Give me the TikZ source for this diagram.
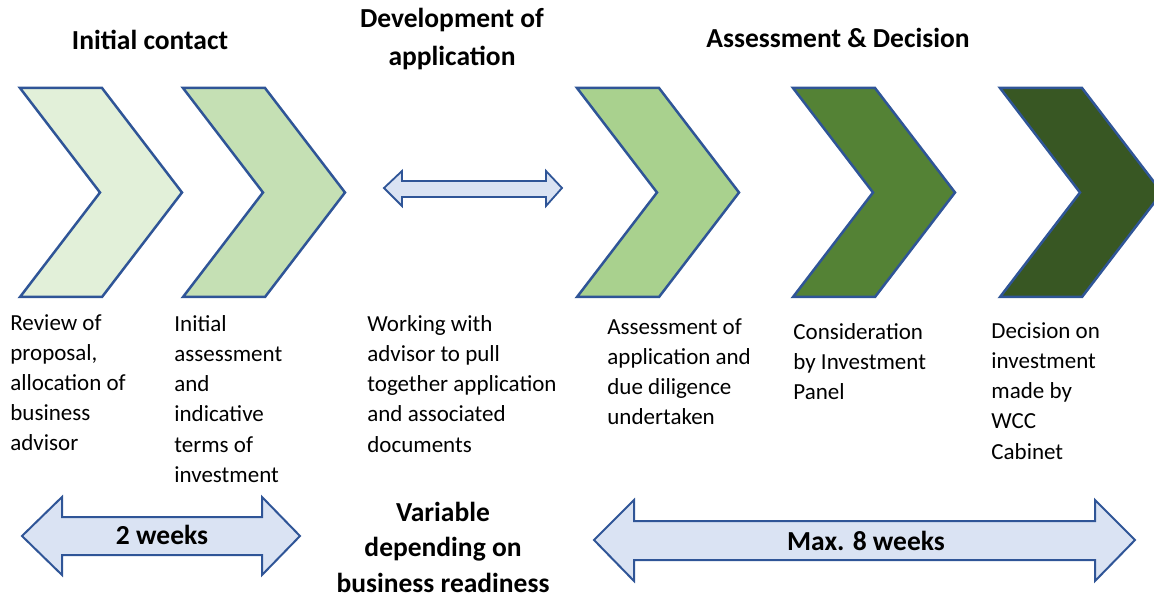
\documentclass[tikz,border=0pt]{standalone}
\usepackage{fontspec}
\setmainfont{Carlito}
\usepackage{tikz}
\usetikzlibrary{positioning}
\definecolor{stageblue}{RGB}{47,85,151}
\definecolor{spanfill}{RGB}{218,227,243}
\definecolor{stageA}{RGB}{226,240,217}
\definecolor{stageB}{RGB}{197,224,180}
\definecolor{stageC}{RGB}{169,209,142}
\definecolor{stageD}{RGB}{84,130,53}
\definecolor{stageE}{RGB}{56,87,35}

\begin{document}
\begin{tikzpicture}[x=0.5pt,y=-0.5pt,
  chevron/.style={draw=stageblue,line width=1.25pt,line join=miter},
  spanarrow/.style={draw=stageblue,fill=spanfill,line width=1pt,line join=miter},
  heading/.style={font=\fontsize{13.75}{19}\selectfont\bfseries,align=center,inner sep=0pt},
  steptext/.style={font=\fontsize{11.5}{15}\selectfont,align=left,anchor=base west,inner sep=0pt}]
\useasboundingbox (0,0) rectangle (1154,597);

% Stage chevrons
\foreach \left/\col in {20/stageA,183/stageB,577/stageC,793/stageD,1000/stageE}{
  \draw[chevron,fill=\col] (\left,88) -- ++(82,0) -- ++(80,104.5) -- ++(-80,104.5)
    -- ++(-82,0) -- ++(80,-104.5) -- cycle;
}

% Headings
\node[heading] (contact) at (150,40) {Initial contact};
\node[heading] (develop) at (452,39) {Development of\\application};
\node[heading] (decide) at (838,38) {Assessment \& Decision};

% Development arrow
\draw[spanarrow,line width=0.9pt] (384,188) -- (402,171) -- (402,181) -- (546,181) -- (546,171)
  -- (562,188) -- (546,206) -- (546,197) -- (402,197) -- (402,206) -- cycle;

% Step descriptions (placed by the baseline of their last line)
\node[steptext] (review) at (10,451) {Review of\\proposal,\\allocation of\\business\\advisor};
\node[steptext] (terms) at (174,482) {Initial\\assessment\\and\\indicative\\terms of\\investment};
\node[steptext] (working) at (367,452) {Working with\\advisor to pull\\together application\\and associated\\documents};
\node[steptext] (diligence) at (607,425) {Assessment of\\application and\\due diligence\\undertaken};
\node[steptext] (panel) at (793,400) {Consideration\\by Investment\\Panel};
\node[steptext] (cabinet) at (991,459) {Decision on\\investment\\made by\\WCC\\Cabinet};

% Durations
\draw[spanarrow] (22,536) -- (62,497) -- (62,517) -- (262,517) -- (262,497) -- (300,536)
  -- (262,575) -- (262,555) -- (62,555) -- (62,575) -- cycle;
\node[heading] (twoweeks) at (162,535) {2 weeks};

\node[heading,font=\fontsize{13.75}{17.75}\selectfont\bfseries] (variable) at (443,547)
  {Variable\\depending on\\business readiness};

\draw[spanarrow] (594,540) -- (634,500) -- (634,521) -- (1095,521) -- (1095,500) -- (1135,540)
  -- (1095,581) -- (1095,560) -- (634,560) -- (634,581) -- cycle;
\node[heading] (eightweeks) at (866,541) {Max. 8 weeks};
\end{tikzpicture}
\end{document}
